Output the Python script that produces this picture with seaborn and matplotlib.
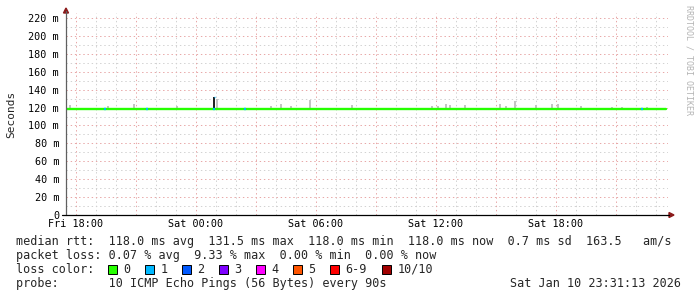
import matplotlib
matplotlib.use("Agg")
import matplotlib.pyplot as plt
from matplotlib.patches import Rectangle, Polygon
from matplotlib.lines import Line2D
import seaborn as sns
import pandas as pd

# ---------------- data (hours from Fri 18:00) ----------------
x_range_h = [-0.5, 29.5]           # Fri 17:30 .. Sat 23:30
median_h = [-0.5, 29.5]
median_ms = [118.0, 118.0]

loss_h = [1.45, 3.55, 6.9, 8.45, 28.3]      # steps with 1/10 loss
loss_level = ["1", "1", "1", "1", "1"]

spike_h = [6.9]
spike_ms = [131.5]

smoke_h = [-0.3, 1.6, 2.9, 5.05, 7.05, 9.75, 10.25, 10.75, 11.7, 13.8,
           17.8, 18.1, 18.5, 18.7, 19.45, 21.2, 21.5, 21.95, 23.0, 23.8,
           24.1, 25.25, 26.8, 27.3, 28.55]
smoke_top = [123.2, 121.7, 124.0, 121.7, 130.0, 121.7, 124.0, 121.7, 128.5, 122.8,
             121.7, 121.7, 124.0, 123.0, 123.2, 124.0, 121.7, 127.5, 123.2, 124.0,
             124.0, 121.7, 120.6, 120.6, 120.6]

xtick_h = [0, 6, 12, 18, 24]
xtick_labels = ["Fri 18:00", "Sat 00:00", "Sat 06:00", "Sat 12:00", "Sat 18:00"]
ytick_ms = [0, 20, 40, 60, 80, 100, 120, 140, 160, 180, 200, 220]
ytick_labels = ["0"] + [f"{v} m" for v in ytick_ms[1:]]

loss_names = ["0", "1", "2", "3", "4", "5", "6-9", "10/10"]
loss_colors = ["#26ff00", "#00b8ff", "#0059ff", "#7e00ff", "#ff00ff",
               "#ff5500", "#ff0000", "#a10000"]

legend_lines = [
    "median rtt:  118.0 ms avg  131.5 ms max  118.0 ms min  118.0 ms now  0.7 ms sd  163.5   am/s",
    "packet loss: 0.07 % avg  9.33 % max  0.00 % min  0.00 % now",
    "loss color:",
    "probe:       10 ICMP Echo Pings (56 Bytes) every 90s",
]
stamp = "Sat Jan 10 23:31:13 2026"

# ---------------- figure ----------------
sns.set_style("white")
MONO = ["DejaVu Sans Mono"]
plt.rcParams["font.family"] = MONO

W, H = 697, 297
fig = plt.figure(figsize=(W / 100, H / 100), dpi=100)
fig.patch.set_facecolor("white")

def fx(x):
    return x / W

def fy(y):
    return 1 - y / H

ax_l, ax_r, ax_t, ax_b = 66, 668, 13, 215
ax = fig.add_axes([fx(ax_l), fy(ax_b), (ax_r - ax_l) / W, (ax_b - ax_t) / H])
ax.set_facecolor("white")

ymax = (ax_b - ax_t) / (197 / 220)
ax.set_xlim(x_range_h[0], x_range_h[0] + (ax_r - ax_l) / 20)
ax.set_ylim(0, ymax)

pink = "#e8a8a8"
grey = "#d2d2d2"
dots = (0, (1.4, 2.8))
for h in range(0, 30):
    if h % 3 == 0:
        continue
    ax.axvline(h, color=grey, lw=0.72, ls=dots, zorder=0)
for v in range(10, 230, 20):
    ax.axhline(v, color=grey, lw=0.72, ls=dots, zorder=0)
for h in range(0, 30, 3):
    ax.axvline(h, color=pink, lw=0.72, ls=dots, zorder=0.5)
for v in range(20, 230, 20):
    ax.axhline(v, color=pink, lw=0.72, ls=dots, zorder=0.5)

# smoke
ax.bar(smoke_h, [t - 118.0 for t in smoke_top], bottom=118.0, width=0.09,
       color="#c4c4c4", linewidth=0, zorder=2)
ax.bar(spike_h, [s - 118.0 for s in spike_ms], bottom=118.0, width=0.1,
       color="#222222", linewidth=0, zorder=4)

# median line
df = pd.DataFrame({"h": median_h, "ms": median_ms})
sns.lineplot(data=df, x="h", y="ms", color=loss_colors[0], lw=1.7, ax=ax, zorder=3)
for h, lv in zip(loss_h, loss_level):
    c = loss_colors[loss_names.index(lv)]
    ax.hlines(118.0, h - 0.07, h + 0.07, color=c, lw=1.7, zorder=5)
for h, s in zip(spike_h, spike_ms):
    ax.hlines(s, h - 0.02, h + 0.05, color=loss_colors[1], lw=1.0, zorder=5)

ax.set_xticks(xtick_h)
ax.set_xticklabels(xtick_labels, fontsize=7.3, family=MONO)
ax.set_yticks(ytick_ms)
ax.set_yticklabels(ytick_labels, fontsize=7.3, family=MONO)
ax.tick_params(axis="both", length=0, colors="black")
ax.tick_params(axis="y", pad=5)
ax.tick_params(axis="x", pad=3)
ax.set_xlabel("")
ax.set_ylabel("")
for s in ax.spines.values():
    s.set_visible(False)

# axis lines with arrows
fig.add_artist(Line2D([fx(66), fx(66)], [fy(215), fy(11)], color="#606060", lw=0.9))
fig.add_artist(Line2D([fx(62), fx(669)], [fy(215), fy(215)], color="black", lw=0.9))
fig.add_artist(Polygon([[fx(63.5), fy(13)], [fx(68.5), fy(13)], [fx(66), fy(8)]],
                       closed=True, color="#8b1a1a", transform=fig.transFigure))
fig.add_artist(Polygon([[fx(669), fy(212.5)], [fx(669), fy(217.5)], [fx(674), fy(215)]],
                       closed=True, color="#8b1a1a", transform=fig.transFigure))

# y label
fig.text(fx(11), fy(114), "Seconds", rotation=90, ha="center", va="center",
         fontsize=8, family=MONO)

# watermark
fig.text(fx(688.5), fy(60), "RRDTOOL / TOBI OETIKER", rotation=270, ha="center",
         va="center", fontsize=6, color="#b4b4b4", family=MONO)

# legend text
base = [245, 259, 273, 287]
for txt, b in zip(legend_lines, base):
    fig.text(fx(16), fy(b), txt, ha="left", va="baseline", fontsize=8.5, family=MONO)
fig.text(fx(681), fy(base[3]), stamp, ha="right", va="baseline", fontsize=8.5, family=MONO)

box_x = [108, 145, 182, 219, 256, 293, 330, 382]
for bx, name, col in zip(box_x, loss_names, loss_colors):
    fig.add_artist(Rectangle((fx(bx), fy(273.5)), 9 / W, 9 / H, facecolor=col,
                             edgecolor="black", lw=0.7, transform=fig.transFigure))
    fig.text(fx(bx + 15.5), fy(base[2]), name, ha="left", va="baseline",
             fontsize=8.5, family=MONO)

fig.savefig("out.png", dpi=100, facecolor="white")
